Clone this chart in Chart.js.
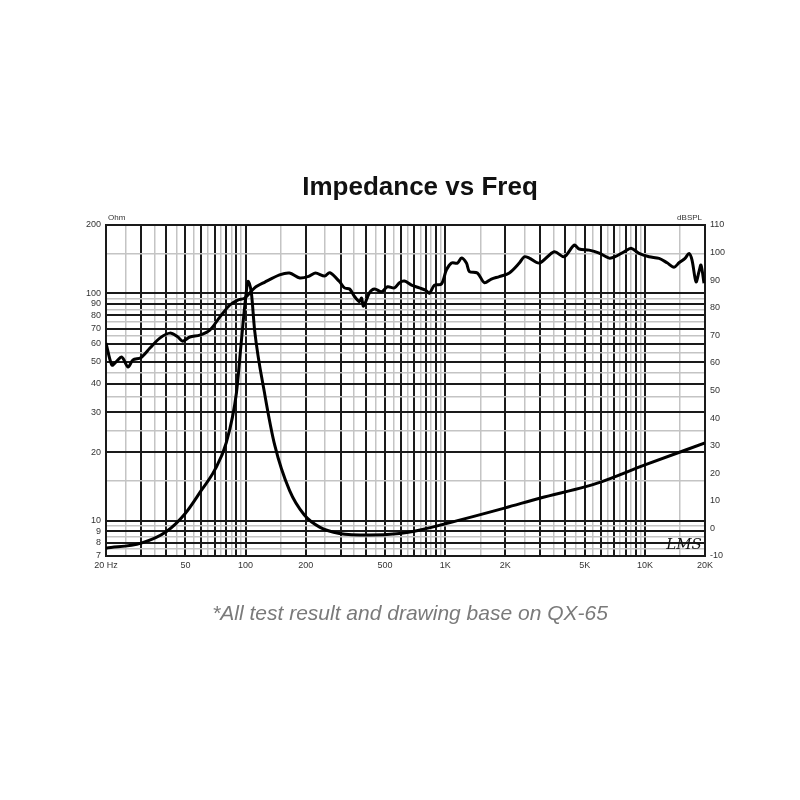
<!DOCTYPE html>
<html>
<head>
<meta charset="utf-8">
<title>Impedance vs Freq</title>
<script src="https://cdn.jsdelivr.net/npm/chart.js@4.4.1/dist/chart.umd.min.js"></script>
<style>
  body { margin: 0; background: #ffffff; }
  canvas { display: block; }
</style>
</head>
<body>
<canvas id="grafico" width="800" height="800"></canvas>
<script>
// curva de impedancia (Hz / Ohm)
const impFreq = [20, 30, 40, 50, 60, 70, 80, 90, 95, 100, 103, 107, 111, 125, 140, 166, 197, 235, 295, 417, 590, 700, 1000, 2000, 3000, 5000, 6000, 10000, 20000];
const impOhm  = [7.58, 7.98, 8.95, 10.8, 13.6, 16.7, 22, 36.5, 60, 95, 113, 100, 69, 35.7, 21.5, 13.6, 10.6, 9.38, 8.8, 8.65, 8.8, 9.0, 9.7, 11.4, 12.6, 14.1, 14.8, 17.6, 22];

// respuesta en frecuencia (Hz / dBSPL)
const splFreq = [20, 21.4, 22.4, 24, 25.8, 27.3, 29.9, 33.2, 37.2, 41.8, 45.8, 48.5, 52.6, 59, 66.2, 74.3, 83.4, 91.4, 99.1,
  111, 125, 148, 166, 187, 209, 224, 249, 264, 296, 313, 332, 352, 372, 381, 390, 418, 443, 480, 514, 557, 590, 625, 678,
  743, 796, 834, 883, 957, 1014, 1075, 1151, 1206, 1277, 1322, 1449, 1571, 1702, 1866, 2094, 2350, 2489, 2636, 2958, 3516,
  3945, 4426, 4689, 5261, 5903, 6623, 7096, 7873, 8530, 9355, 10496, 11777, 12913, 13996, 14826, 15887, 16636, 17220,
  18033, 18661, 19097, 19770];
const splDb = [67.2, 59.2, 60.3, 62.1, 58.5, 61.1, 61.9, 65.4, 69.0, 70.8, 69.4, 67.9, 69.4, 70.1, 71.9, 76.6, 81.0, 82.8, 83.5,
  87.2, 89.3, 91.9, 92.6, 90.8, 91.5, 92.6, 91.5, 92.7, 89.4, 87.2, 86.8, 84.0, 82.2, 83.5, 80.6, 85.5, 86.8, 85.8, 87.6, 87.2, 89.1, 89.7, 88.2,
  87.2, 86.4, 85.3, 88.2, 88.6, 93.7, 96.2, 96.2, 98.0, 96.2, 93.1, 92.6, 89.1, 90.4, 91.3, 92.6, 96.2, 98.5, 98.0, 96.2, 100.3,
  98.5, 102.7, 101.3, 100.9, 99.8, 98.0, 98.5, 100.3, 101.6, 99.7, 98.5, 97.9, 96.3, 94.7, 96.3, 97.9, 99.7, 97.3,
  89.4, 93.1, 95.5, 88.9];

// rejilla y etiquetas
const xGridDark  = [20, 30, 40, 50, 60, 70, 80, 90, 100, 200, 300, 400, 500, 600, 700, 800, 900, 1000,
  2000, 3000, 4000, 5000, 6000, 7000, 8000, 9000, 10000, 20000];
const xGridLight = [25, 35, 45, 55, 65, 75, 85, 95, 150, 250, 350, 450, 550, 650, 750, 850, 950, 1500,
  2500, 3500, 4500, 5500, 6500, 7500, 8500, 9500, 15000];
const xTickValues = [20, 50, 100, 200, 500, 1000, 2000, 5000, 10000, 20000];
const xTickLabels = ['20 Hz', '50', '100', '200', '500', '1K', '2K', '5K', '10K', '20K'];
const ohmGridDark  = [7, 8, 9, 10, 20, 30, 40, 50, 60, 70, 80, 90, 100, 200];
const ohmGridLight = [7.5, 8.5, 9.5, 15, 25, 35, 45, 55, 65, 75, 85, 95, 150];
const dbTicks = [-10, 0, 10, 20, 30, 40, 50, 60, 70, 80, 90, 100, 110];

const DARK = '#1a1a1a';
const LIGHT = '#c4c4c4';
const tickFont = { family: 'Liberation Sans', size: 9 };

function gridColor(lightList) {
  return ctx => (ctx.tick && lightList.includes(ctx.tick.value)) ? LIGHT : DARK;
}
function gridWidth(lightList) {
  return ctx => (ctx.tick && lightList.includes(ctx.tick.value)) ? 1.5 : 2;
}

// textos fijos: titulo, unidades, nota y firma
const textos = {
  id: 'textos',
  beforeDraw(chart) {
    const c = chart.ctx;
    c.save();
    c.fillStyle = '#ffffff';
    c.fillRect(0, 0, chart.width, chart.height);
    c.restore();
  },
  afterDraw(chart) {
    const c = chart.ctx;
    const a = chart.chartArea;
    c.save();
    c.fillStyle = '#111';
    c.textAlign = 'center';
    c.textBaseline = 'middle';
    c.font = 'bold 26px "Liberation Sans"';
    c.fillText('Impedance vs Freq', 420, 188);

    c.font = '8px "Liberation Sans"';
    c.fillStyle = '#333';
    c.textAlign = 'left';
    c.fillText('Ohm', a.left + 2, a.top - 7);
    c.textAlign = 'right';
    c.fillText('dBSPL', a.right - 3, a.top - 7);

    c.font = 'italic 21px "Liberation Sans"';
    c.fillStyle = '#7a7a7a';
    c.textAlign = 'center';
    c.fillText('*All test result and drawing base on QX-65', 410, 614);

    c.font = 'italic 15px "DejaVu Serif"';
    c.fillStyle = '#111';
    c.fillText('LMS', 684, 545);
    c.restore();
  }
};

const chartConfig = {
  type: 'line',
  data: {
    datasets: [{
      label: 'Impedance',
      data: impFreq.map((f, i) => ({ x: f, y: impOhm[i] })),
      yAxisID: 'ohm',
      borderColor: '#000',
      borderWidth: 3,
      pointRadius: 0,
      cubicInterpolationMode: 'monotone'
    }, {
      label: 'SPL',
      data: splFreq.map((f, i) => ({ x: f, y: splDb[i] })),
      yAxisID: 'db',
      borderColor: '#000',
      borderWidth: 3,
      pointRadius: 0,
      tension: 0.3
    }]
  },
  options: {
    responsive: false,
    animation: false,
    layout: { padding: { top: 225, bottom: 220, left: 0, right: 0 } },
    plugins: {
      legend: { display: false },
      tooltip: { enabled: false }
    },
    scales: {
      x: {
        type: 'logarithmic',
        min: 20,
        max: 20000,
        afterBuildTicks: s => { s.ticks = xGridDark.concat(xGridLight).map(v => ({ value: v })); },
        afterFit: s => { s.height = 24; },
        grid: { color: gridColor(xGridLight), lineWidth: gridWidth(xGridLight), drawTicks: false },
        border: { display: true, color: DARK, width: 2 },
        ticks: {
          autoSkip: false,
          maxRotation: 0,
          padding: 4,
          color: '#333',
          font: tickFont,
          callback: v => {
            const i = xTickValues.indexOf(v);
            return i >= 0 ? xTickLabels[i] : '';
          }
        }
      },
      ohm: {
        type: 'logarithmic',
        position: 'left',
        min: 7,
        max: 200,
        afterBuildTicks: s => { s.ticks = ohmGridDark.concat(ohmGridLight).map(v => ({ value: v })); },
        afterFit: s => { s.width = 106; },
        grid: { color: gridColor(ohmGridLight), lineWidth: gridWidth(ohmGridLight), drawTicks: false },
        border: { display: true, color: DARK, width: 2 },
        ticks: {
          autoSkip: false,
          padding: 5,
          color: '#333',
          font: tickFont,
          callback: v => ohmGridDark.includes(v) ? String(v) : ''
        }
      },
      db: {
        type: 'linear',
        position: 'right',
        min: -10,
        max: 110,
        afterBuildTicks: s => { s.ticks = dbTicks.map(v => ({ value: v })); },
        afterFit: s => { s.width = 95; },
        grid: { display: false, drawTicks: false },
        border: { display: true, color: DARK, width: 2 },
        ticks: {
          autoSkip: false,
          padding: 5,
          color: '#333',
          font: tickFont
        }
      }
    }
  },
  plugins: [textos]
};

// Inicializar grafico
new Chart(document.getElementById('grafico'), chartConfig);
</script>
</body>
</html>
